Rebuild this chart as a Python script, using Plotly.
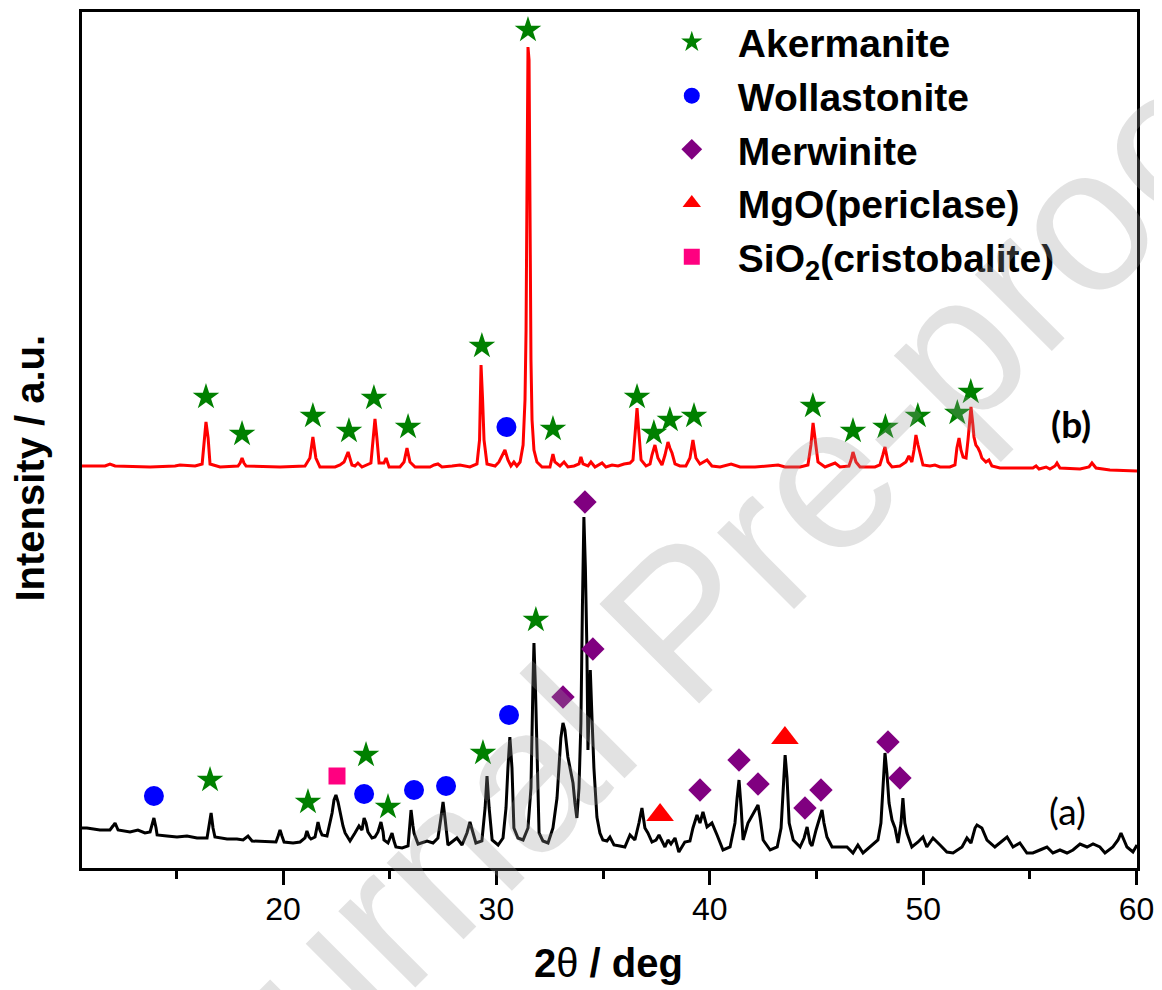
import plotly.graph_objects as go

# ---------------- data ----------------
# curve (b): red pattern
tth_b = [10.58, 11.66, 11.89, 12.13, 13.77, 14.94, 15.17, 15.88, 16.21, 16.30,
         16.39, 16.49, 16.58, 17.05, 17.89, 17.99, 18.08, 18.17, 18.27, 19.86,
         21.03, 21.26, 21.40, 21.54, 21.73, 22.44, 22.67, 22.86, 23.05, 23.23,
         23.37, 23.51, 23.70, 24.12, 24.22, 24.31, 24.40, 24.50, 24.73, 24.83,
         24.97, 25.48, 25.67, 25.81, 25.95, 26.19, 26.89, 27.08, 27.26, 27.45,
         27.92, 28.29, 28.76, 29.09, 29.21, 29.28, 29.35, 29.42, 29.56, 29.94,
         30.12, 30.22, 30.31, 30.40, 30.54, 30.68, 30.82, 30.96, 31.11, 31.25,
         31.34, 31.39, 31.43, 31.48, 31.53, 31.57, 31.62, 31.67, 31.76, 31.90,
         32.14, 32.51, 32.56, 32.65, 32.74, 32.98, 33.17, 33.35, 33.64, 33.87,
         33.96, 34.06, 34.29, 34.43, 34.62, 34.95, 35.13, 35.42, 35.70, 35.98,
         36.26, 36.40, 36.52, 36.59, 36.66, 36.78, 37.01, 37.20, 37.29, 37.43,
         37.57, 37.76, 37.90, 38.04, 38.13, 38.23, 38.37, 38.60, 38.88, 39.07,
         39.21, 39.35, 39.54, 39.87, 40.10, 40.48, 41.00, 41.42, 42.12, 43.20,
         43.53, 44.23, 44.60, 44.74, 44.84, 44.93, 45.07, 45.40, 45.87, 46.10,
         46.52, 46.62, 46.71, 46.85, 47.04, 47.74, 47.97, 48.11, 48.21, 48.35,
         48.54, 48.91, 49.19, 49.33, 49.47, 49.57, 49.66, 49.76, 49.85, 49.99,
         50.32, 50.55, 50.79, 51.25, 51.49, 51.58, 51.68, 51.77, 51.87, 52.01,
         52.10, 52.24, 52.33, 52.38, 52.47, 52.57, 52.66, 52.75, 52.94, 53.08,
         53.22, 53.60, 54.53, 55.14, 55.29, 55.43, 55.76, 55.94, 56.18, 56.27,
         56.41, 57.35, 57.77, 57.91, 58.10, 58.75, 60.02]
int_b = [402, 402, 404, 402, 401, 402, 403, 402, 404, 430,
         446, 430, 404, 401, 402, 405, 410, 405, 402, 401,
         402, 410, 431, 410, 401, 401, 403, 406, 416, 403,
         402, 405, 401, 405, 430, 449, 430, 405, 405, 410,
         401, 401, 406, 420, 406, 401, 401, 403, 404, 401,
         402, 403, 401, 404, 428, 503, 470, 428, 404, 402,
         406, 410, 413, 418, 408, 402, 406, 402, 406, 423,
         468, 538, 668, 821, 808, 668, 508, 448, 418, 406,
         401, 401, 406, 414, 406, 402, 406, 401, 402, 404,
         411, 404, 402, 406, 401, 405, 401, 403, 402, 404,
         405, 408, 440, 460, 440, 408, 402, 404, 413, 423,
         410, 403, 413, 426, 420, 415, 404, 402, 402, 410,
         428, 410, 404, 408, 402, 401, 404, 401, 401, 403,
         401, 401, 403, 423, 445, 428, 406, 401, 405, 401,
         402, 408, 416, 406, 401, 401, 403, 413, 421, 406,
         401, 402, 406, 412, 406, 418, 433, 423, 415, 403,
         402, 403, 401, 401, 403, 420, 430, 418, 411, 410,
         428, 461, 443, 431, 423, 420, 416, 410, 406, 408,
         402, 400, 400, 400, 402, 399, 401, 399, 402, 405,
         400, 399, 401, 405, 400, 398, 397]

# curve (a): black pattern
tth_a = [10.58, 10.81, 11.42, 11.89, 12.03, 12.13, 12.27, 12.83, 13.20, 13.53,
         13.77, 13.86, 13.95, 14.05, 14.10, 14.56, 15.03, 15.50, 15.97, 16.44,
         16.53, 16.63, 16.72, 16.81, 17.38, 17.84, 18.13, 18.36, 18.55, 19.25,
         19.67, 19.77, 19.86, 19.95, 20.05, 20.47, 20.80, 21.03, 21.12, 21.22,
         21.31, 21.50, 21.64, 21.73, 21.83, 22.06, 22.20, 22.30, 22.39, 22.48,
         22.58, 22.67, 22.81, 22.91, 23.14, 23.37, 23.56, 23.70, 23.80, 23.89,
         23.98, 24.17, 24.31, 24.45, 24.59, 24.69, 24.73, 24.92, 25.01, 25.11,
         25.20, 25.29, 25.58, 25.86, 25.93, 26.00, 26.09, 26.14, 26.33, 26.75,
         27.03, 27.26, 27.40, 27.50, 27.59, 27.73, 27.97, 28.15, 28.39, 28.62,
         28.76, 28.90, 29.04, 29.32, 29.47, 29.56, 29.66, 29.80, 30.08, 30.31,
         30.45, 30.54, 30.63, 30.73, 30.82, 31.01, 31.25, 31.48, 31.62, 31.71,
         31.76, 31.83, 31.90, 32.00, 32.18, 32.42, 32.65, 32.84, 32.93, 33.02,
         33.12, 33.21, 33.35, 33.49, 33.59, 33.68, 33.77, 33.87, 33.96, 34.03,
         34.10, 34.17, 34.24, 34.29, 34.33, 34.40, 34.48, 34.57, 34.71, 34.85,
         34.99, 35.18, 35.32, 35.51, 35.79, 36.02, 36.26, 36.49, 36.68, 36.82,
         36.96, 37.10, 37.29, 37.48, 37.62, 37.90, 38.04, 38.18, 38.37, 38.55,
         38.83, 39.07, 39.21, 39.40, 39.54, 39.68, 39.87, 40.10, 40.34, 40.62,
         40.95, 41.18, 41.28, 41.37, 41.47, 41.56, 41.79, 42.03, 42.17, 42.26,
         42.36, 42.50, 42.83, 43.16, 43.34, 43.44, 43.53, 43.62, 43.72, 43.91,
         44.23, 44.42, 44.56, 44.70, 44.79, 44.98, 45.12, 45.26, 45.35, 45.49,
         45.73, 46.10, 46.43, 46.71, 46.94, 47.18, 47.60, 47.88, 48.02, 48.11,
         48.21, 48.30, 48.40, 48.54, 48.68, 48.82, 48.96, 49.05, 49.14, 49.24,
         49.47, 49.76, 49.99, 50.17, 50.46, 50.79, 51.11, 51.40, 51.82, 52.05,
         52.24, 52.43, 52.52, 52.75, 52.99, 53.36, 53.60, 53.93, 54.21, 54.53,
         54.86, 55.14, 55.47, 55.80, 56.08, 56.41, 56.74, 57.02, 57.35, 57.68,
         57.96, 58.28, 58.52, 58.89, 59.13, 59.27, 59.41, 59.55, 59.83, 60.02]
int_a = [40, 40, 38, 38, 42, 45, 38, 36, 38, 35,
         36, 42, 50, 40, 33, 32, 31, 32, 30, 30,
         40, 55, 40, 31, 29, 29, 28, 32, 27, 26,
         26, 32, 38, 32, 26, 25, 26, 30, 37, 31,
         29, 31, 46, 38, 33, 32, 45, 55, 68, 73,
         66, 55, 42, 35, 27, 35, 42, 38, 50, 45,
         36, 30, 31, 36, 46, 36, 28, 25, 30, 35,
         27, 21, 20, 22, 40, 58, 42, 35, 24, 27,
         25, 30, 50, 66, 50, 23, 27, 30, 23, 35,
         46, 35, 25, 27, 60, 92, 60, 28, 23, 30,
         60, 100, 131, 100, 40, 30, 28, 40, 80, 180,
         225, 180, 110, 35, 27, 25, 40, 70, 100, 130,
         145, 138, 111, 95, 85, 65, 50, 80, 145, 260,
         351, 300, 220, 118, 150, 198, 150, 100, 51, 35,
         28, 27, 31, 23, 22, 21, 33, 28, 45, 60,
         40, 35, 26, 28, 33, 21, 28, 24, 30, 16,
         26, 27, 40, 53, 45, 56, 41, 45, 33, 18,
         21, 45, 70, 88, 60, 28, 45, 55, 60, 63,
         50, 28, 18, 21, 40, 80, 113, 90, 45, 28,
         21, 30, 41, 25, 22, 38, 48, 58, 45, 31,
         21, 21, 21, 15, 23, 15, 23, 28, 45, 80,
         115, 95, 65, 48, 40, 25, 45, 70, 45, 35,
         21, 26, 31, 21, 30, 23, 16, 15, 21, 30,
         25, 40, 43, 40, 28, 21, 25, 31, 21, 25,
         15, 15, 18, 21, 15, 18, 15, 18, 24, 21,
         24, 21, 15, 21, 28, 35, 28, 21, 16, 23]

# phase markers (2theta, height)
akermanite_x = [16.39, 18.08, 21.40, 23.09, 24.26, 25.86, 29.32, 31.48, 32.65, 36.59,
                37.38, 38.13, 39.26, 44.83, 46.71, 48.23, 49.75, 51.60, 52.23,
                16.58, 21.17, 23.89, 24.92, 29.37, 31.85]
akermanite_y = [471, 434, 452, 437, 470, 441, 522, 838, 439, 471,
                435, 448, 452, 462, 437, 441, 452, 455, 476,
                88, 66, 113, 61, 115, 248]
wollastonite_x = [30.47, 13.95, 23.80, 26.14, 27.64, 30.59]
wollastonite_y = [441, 72, 74, 78, 82, 153]
merwinite_x = [33.12, 34.15, 34.52, 39.54, 41.37, 42.26, 44.46, 45.21, 48.35, 48.91]
merwinite_y = [171, 366, 219, 78, 108, 84, 60, 78, 126, 90]
mgo_x = [37.67, 43.52]
mgo_y = [53, 130]
sio2_x = [22.53]
sio2_y = [92]

x_ticks = [20, 30, 40, 50, 60]

FONT = "Liberation Sans"

fig = go.Figure()
fig.add_trace(go.Scatter(x=tth_b, y=int_b, mode="lines", line=dict(color="#ff0000", width=3),
                         showlegend=False, hoverinfo="skip"))
fig.add_trace(go.Scatter(x=tth_a, y=int_a, mode="lines", line=dict(color="#000000", width=3),
                         showlegend=False, hoverinfo="skip"))

phases = [
    ("Akermanite", akermanite_x, akermanite_y, "star", "#008000", 20),
    ("Wollastonite", wollastonite_x, wollastonite_y, "circle", "#0000ff", 20),
    ("Merwinite", merwinite_x, merwinite_y, "diamond", "#800080", 18),
    ("MgO(periclase)", mgo_x, mgo_y, "triangle-up", "#ff0000", 24),
    ("SiO<sub>2</sub>(cristobalite)", sio2_x, sio2_y, "square", "#ff0080", 17),
]
for name, xs, ys, sym, col, sz in phases:
    fig.add_trace(go.Scatter(x=xs, y=ys, mode="markers", name=name,
                             marker=dict(symbol=sym, color=col, size=sz, line=dict(width=0))))

# the page body adds an 8 px offset; the figure is sized to compensate
fig.update_layout(
    width=1154, height=982,
    margin=dict(l=74, r=25, t=4, b=122, autoexpand=False),
    paper_bgcolor="white", plot_bgcolor="white",
    font=dict(family=FONT, color="black"),
    showlegend=True,
    legend=dict(x=0.5344, y=1.0022, xanchor="left", yanchor="top",
                font=dict(family=FONT, size=39, color="black", weight="bold"),
                bgcolor="rgba(0,0,0,0)", tracegroupgap=0, itemsizing="trace",
                itemwidth=82),
)
fig.update_xaxes(range=[10.58, 60.02], tickmode="array", tickvals=x_ticks,
                 ticktext=[str(v) for v in x_ticks],
                 ticks="outside", ticklen=14, tickwidth=3, tickcolor="black",
                 minor=dict(dtick=5, tick0=15, ticks="outside", ticklen=8, tickwidth=3, tickcolor="black"),
                 showline=True, linewidth=3, linecolor="black", mirror=True,
                 showgrid=False, zeroline=False, ticklabelstandoff=-3,
                 tickfont=dict(family=FONT, size=32, color="black"))
fig.update_yaxes(range=[0, 856], showticklabels=False, ticks="",
                 showline=True, linewidth=3, linecolor="black", mirror=True,
                 showgrid=False, zeroline=False)

fig.add_annotation(text="<b>2</b>θ<b> / deg</b>", xref="paper", yref="paper",
                   x=0.4986, y=-0.111, xanchor="center", yanchor="middle",
                   showarrow=False, font=dict(family=FONT, size=40, color="black"))
fig.add_annotation(text="<b>Intensity / a.u.</b>", xref="paper", yref="paper",
                   x=-0.049, y=0.467, xanchor="center", yanchor="middle", textangle=-90,
                   showarrow=False, font=dict(family=FONT, size=40, color="black"))
fig.add_annotation(text="(a)", x=56.78, y=58, xanchor="center", yanchor="middle",
                   showarrow=False, font=dict(family="Lato", size=37, color="black"))
fig.add_annotation(text="<b>(b)</b>", x=56.92, y=445, xanchor="center", yanchor="middle",
                   showarrow=False, font=dict(family="Lato", size=37, color="black"))
fig.add_annotation(text="Journal Pre-proof", xref="paper", yref="paper",
                   x=0.568, y=0.289, xanchor="center", yanchor="middle", textangle=-45,
                   showarrow=False, font=dict(family=FONT, size=205, color="rgba(150,150,150,0.28)"))

fig.write_html("out.html")
